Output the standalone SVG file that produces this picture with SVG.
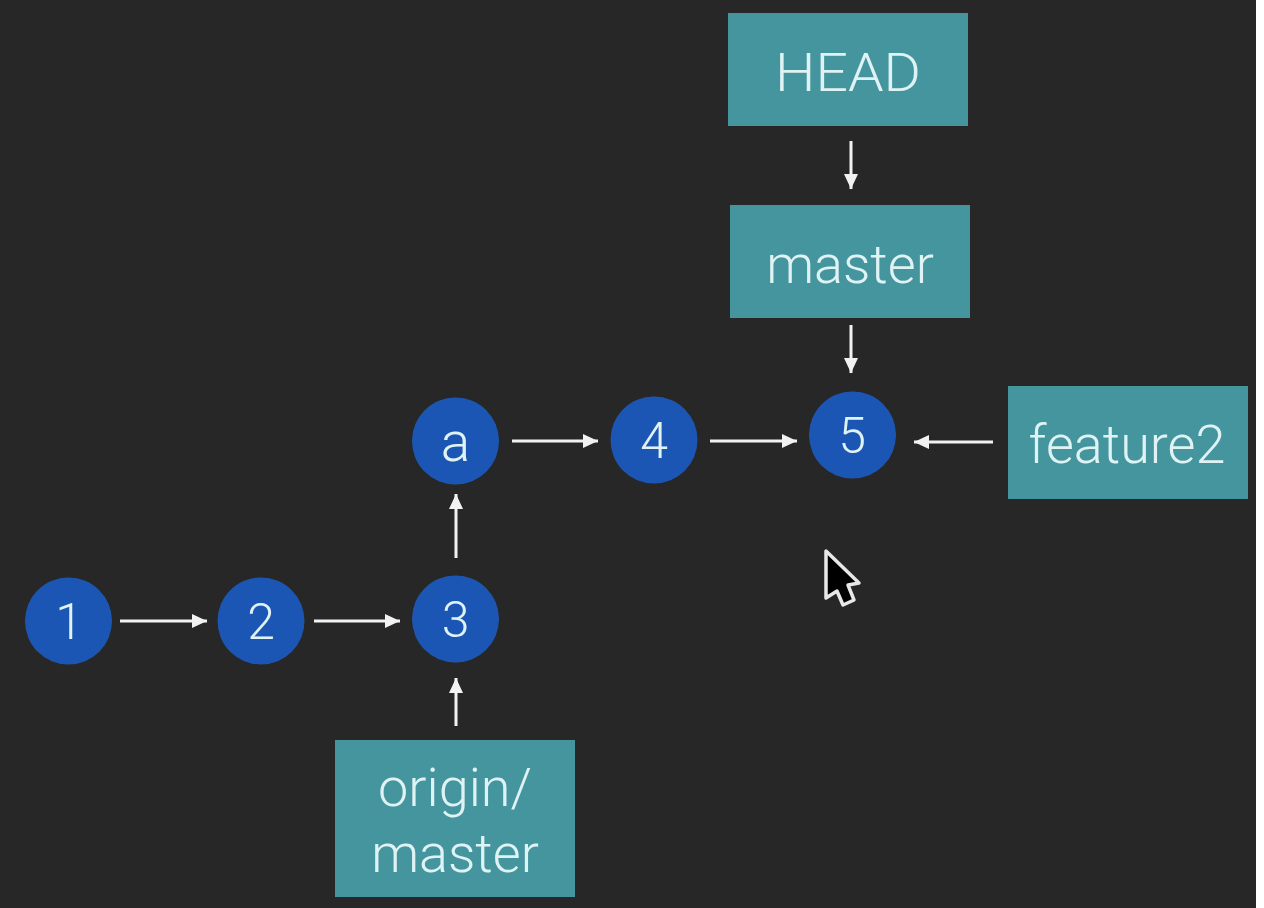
<svg xmlns="http://www.w3.org/2000/svg" width="1264" height="908" viewBox="0 0 1264 908">
<style>
.b{fill:#45959f}
.c{fill:#1f57b4}
text{font-family:"Roboto","Liberation Sans",sans-serif;font-weight:300;fill:#dff3f4;text-anchor:middle}
.l{font-size:54px}
.n{font-size:50px}
.e{stroke:#f2f2f2;stroke-width:3;fill:none;marker-end:url(#a)}
</style>
<defs>
<marker id="a" markerUnits="userSpaceOnUse" markerWidth="16" markerHeight="16" refX="15" refY="8" orient="auto"><path d="M0 1L15 8L0 15Z" fill="#f2f2f2"/></marker>
<filter id="s" x="0" y="0" width="1" height="1"><feGaussianBlur stdDeviation="0.7"/></filter>
</defs>
<rect width="1264" height="908" fill="#fff"/>
<rect width="1256" height="908" fill="#272727"/>
<g filter="url(#s)">
<g id="edges">
<path class="e" d="M120 621H207"/>
<path class="e" d="M314 621H400"/>
<path class="e" d="M456 558V494"/>
<path class="e" d="M456 726V678"/>
<path class="e" d="M512 441H598"/>
<path class="e" d="M710 441H797"/>
<path class="e" d="M851 141V189"/>
<path class="e" d="M851 325V373"/>
<path class="e" d="M993 442H914"/>
</g>
<g id="n1"><circle class="c" cx="68.500" cy="621" r="43.500"/><text class="n" x="69" y="639">1</text></g>
<g id="n2"><circle class="c" cx="261" cy="621" r="43.500"/><text class="n" x="261" y="639">2</text></g>
<g id="n3"><circle class="c" cx="455.500" cy="619" r="43.500"/><text class="n" x="455.500" y="637">3</text></g>
<g id="na"><circle class="c" cx="455.500" cy="441" r="43.500"/><text x="455.500" y="461" font-size="55">a</text></g>
<g id="n4"><circle class="c" cx="654" cy="440" r="43.500"/><text class="n" x="654" y="458">4</text></g>
<g id="n5"><circle class="c" cx="852.500" cy="435" r="43.500"/><text class="n" x="852" y="453">5</text></g>
<g id="head"><rect class="b" x="728" y="13" width="240" height="113"/><text class="l" x="848" y="91" textLength="146" lengthAdjust="spacingAndGlyphs">HEAD</text></g>
<g id="master"><rect class="b" x="730" y="205" width="240" height="113"/><text class="l" x="850" y="283">master</text></g>
<g id="feature2"><rect class="b" x="1008" y="386" width="240" height="113"/><text class="l" x="1127" y="463">feature2</text></g>
<g id="origin"><rect class="b" x="335" y="740" width="240" height="157"/><text class="l" x="455" y="806">origin/</text><text class="l" x="455" y="872">master</text></g>
<path id="cursor" d="M826 551L859 583L848 585L854 600L843 605L837 591L826 598Z" fill="#000" stroke="#e8e8e8" stroke-width="3.500" stroke-linejoin="round"/>
</g>
</svg>
